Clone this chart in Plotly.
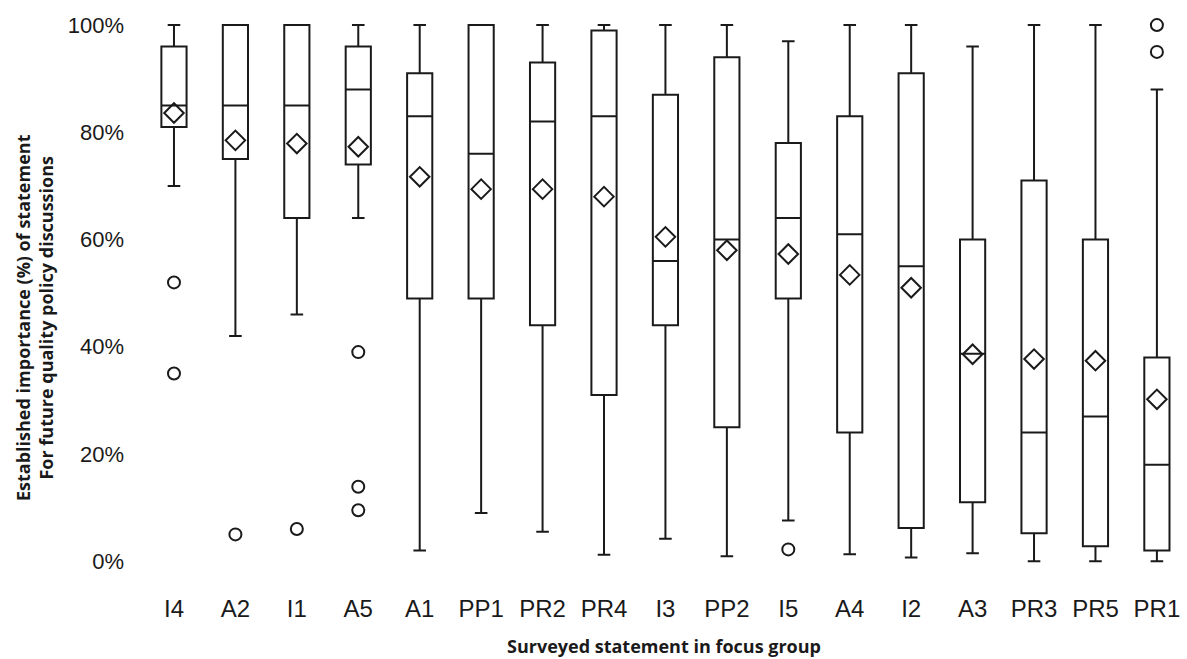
import plotly.graph_objects as go

# Surveyed statements, ordered by mean importance
statements = ["I4", "A2", "I1", "A5", "A1", "PP1", "PR2", "PR4", "I3",
              "PP2", "I5", "A4", "I2", "A3", "PR3", "PR5", "PR1"]

# Box statistics (importance, %)
upper_whisker = [100, 100, 100, 100, 100, 100, 100, 100, 100, 100, 97, 100, 100, 96, 100, 100, 88]
q3 = [96, 100, 100, 96, 91, 100, 93, 99, 87, 94, 78, 83, 91, 60, 71, 60, 38]
median = [85, 85, 85, 88, 83, 76, 82, 83, 56, 60, 64, 61, 55, 38.7, 24, 27, 18]
q1 = [81, 75, 64, 74, 49, 49, 44, 31, 44, 25, 49, 24, 6.2, 11, 5.2, 2.8, 2]
lower_whisker = [70, 42, 46, 64, 2, 9, 5.5, 1.2, 4.2, 0.9, 7.6, 1.3, 0.7, 1.5, 0, 0, 0]
mean = [83.6, 78.5, 77.9, 77.3, 71.7, 69.4, 69.4, 68.0, 60.5, 58.0, 57.3, 53.4, 51.0, 38.6, 37.7, 37.4, 30.2]

# Outlying responses
outlier_statement = ["I4", "I4", "A2", "I1", "A5", "A5", "A5", "I5", "PR1", "PR1"]
outlier_value = [52, 35, 5.0, 6.0, 39, 13.9, 9.5, 2.2, 100, 95]

ink = "#1a1a1a"
tick_font = dict(family="Liberation Sans, Arial, sans-serif", size=22, color=ink)
title_font = dict(family="Open Sans, sans-serif", size=18, color=ink)

fig = go.Figure()

fig.add_trace(go.Box(
    x=statements,
    q1=q1, median=median, q3=q3,
    lowerfence=lower_whisker, upperfence=upper_whisker,
    fillcolor="rgba(255,255,255,0)",
    line=dict(color=ink, width=2),
    whiskerwidth=0.5,
    width=0.41,
    boxpoints=False,
    hoverinfo="skip",
    showlegend=False,
))

fig.add_trace(go.Scatter(
    x=statements, y=mean, mode="markers",
    marker=dict(symbol="diamond-open", size=15, color=ink, line=dict(width=2, color=ink)),
    cliponaxis=False, showlegend=False,
))

fig.add_trace(go.Scatter(
    x=outlier_statement, y=outlier_value, mode="markers",
    marker=dict(symbol="circle-open", size=12, color=ink, line=dict(width=2, color=ink)),
    cliponaxis=False, showlegend=False,
))

fig.update_layout(
    width=1187, height=659,
    margin=dict(l=133, r=0, t=9, b=71),
    paper_bgcolor="white", plot_bgcolor="white",
    xaxis=dict(
        type="category", categoryorder="array", categoryarray=statements,
        range=[-0.667, 16.49],
        showline=False, showgrid=False, zeroline=False, ticks="",
        tickfont=dict(family="Liberation Sans, Arial, sans-serif", size=24, color=ink),
        ticklabelstandoff=4,
    ),
    yaxis=dict(
        range=[-5, 103],
        tickvals=[0, 20, 40, 60, 80, 100],
        ticktext=["0%", "20%", "40%", "60%", "80%", "100%"],
        showline=False, showgrid=False, zeroline=False, ticks="",
        tickfont=tick_font,
        ticklabelstandoff=8,
    ),
    annotations=[
        dict(text="<b>Surveyed statement in focus group</b>",
             xref="paper", yref="paper", x=0.5, y=0, xanchor="center", yanchor="middle",
             xshift=664 - (133 + 1054 / 2), yshift=-(646 - 588),
             showarrow=False, font=title_font),
        dict(text="<b>Established importance (%) of statement<br>For future quality policy discussions</b>",
             xref="paper", yref="paper", x=0, y=0.5, xanchor="center", yanchor="middle",
             xshift=34 - 133, yshift=-(318 - 298.5),
             textangle=-90, showarrow=False, font=title_font),
    ],
)

fig.write_html("out.html")
